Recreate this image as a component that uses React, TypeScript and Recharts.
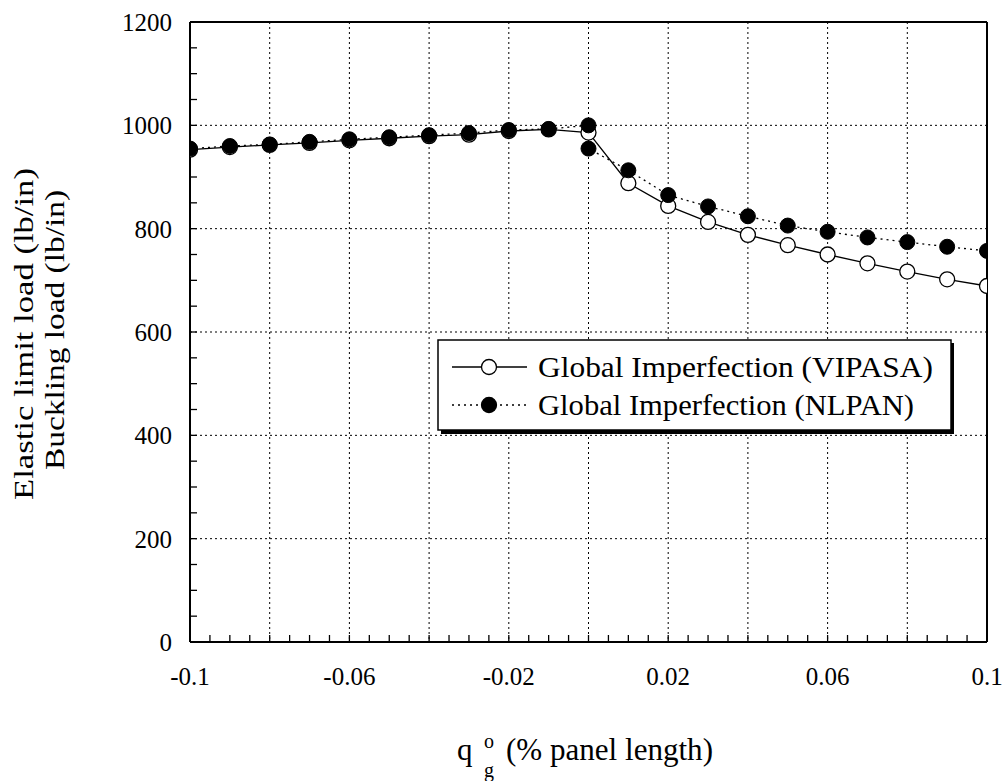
import React from 'react';
import { LineChart, Line, XAxis, YAxis, CartesianGrid, Legend, ReferenceLine } from 'recharts';

// imperfection amplitude (% panel length) and load (lb/in)
const qVipasa = [-0.1, -0.09, -0.08, -0.07, -0.06, -0.05, -0.04, -0.03, -0.02, -0.01, 0, 0.01, 0.02, 0.03, 0.04, 0.05, 0.06, 0.07, 0.08, 0.09, 0.1];
const loadVipasa = [953, 958, 962, 966, 971, 975, 979, 982, 989, 992, 986, 888, 844, 813, 788, 768, 750, 733, 717, 702, 689];

const qNlpan = [-0.1, -0.09, -0.08, -0.07, -0.06, -0.05, -0.04, -0.03, -0.02, -0.01, 0, 0, 0.01, 0.02, 0.03, 0.04, 0.05, 0.06, 0.07, 0.08, 0.09, 0.1];
const loadNlpan = [955, 960, 963, 968, 973, 977, 981, 985, 991, 993, 1000, 955, 913, 865, 843, 824, 806, 794, 783, 774, 765, 757];

const xGridTicks = [-0.1, -0.08, -0.06, -0.04, -0.02, 0, 0.02, 0.04, 0.06, 0.08, 0.1];
const xTickLabels = ['-0.1', '-0.06', '-0.02', '0.02', '0.06', '0.1'];
const xMinorTicks = Array.from({ length: 41 }, (_, i) => -0.1 + i * 0.005);
const yTicks = [0, 200, 400, 600, 800, 1000, 1200];
const yMinorTicks = Array.from({ length: 25 }, (_, i) => i * 50);

const seriesNames = ['Global Imperfection (VIPASA)', 'Global Imperfection (NLPAN)'];

const vipasaData = qVipasa.map((x, i) => ({ x, load: loadVipasa[i] }));
const nlpanData = qNlpan.map((x, i) => ({ x, load: loadNlpan[i] }));

const FONT = '"Liberation Serif", "Times New Roman", serif';

// every minor tick gets a tick line, only some get a label
const formatX = (v: number) => {
  const s = String(Math.round(v * 1000) / 1000);
  return xTickLabels.includes(s) ? s : '';
};
const formatY = (v: number) => (yTicks.includes(Math.round(v)) ? String(Math.round(v)) : '');

// legend box drawn in its own little svg, placed by the Legend wrapper
function LegendBox() {
  const rows = [
    { name: seriesNames[0], dash: undefined, fill: '#fff', len: 395 },
    { name: seriesNames[1], dash: '2 4', fill: '#000', len: 376 },
  ];
  return (
    <svg width={520} height={98} style={{ display: 'block' }}>
      <rect x={4} y={4} width={513} height={91} fill="#000" />
      <rect x={1} y={1} width={513} height={90} fill="#fff" stroke="#000" strokeWidth={1.5} />
      {rows.map((r, i) => {
        const cy = 28 + i * 38;
        return (
          <g key={r.name}>
            <line x1={15} x2={90} y1={cy} y2={cy} stroke="#000" strokeWidth={1.3} strokeDasharray={r.dash} />
            <circle cx={52} cy={cy} r={7.5} fill={r.fill} stroke="#000" strokeWidth={1.3} />
            <text x={101} y={cy + 10} fontFamily={FONT} fontSize={30} fill="#000" textLength={r.len} lengthAdjust="spacingAndGlyphs">
              {r.name}
            </text>
          </g>
        );
      })}
    </svg>
  );
}

export default function App() {
  return (
    <div style={{ position: 'absolute', left: 0, top: 0, width: 1004, height: 781, background: '#fff' }}>
      <LineChart width={1004} height={781} margin={{ top: 22, right: 17, bottom: 99, left: 130 }}>
        <CartesianGrid stroke="#000" strokeWidth={1} strokeDasharray="2 3" horizontalValues={yTicks} verticalValues={xGridTicks} />
        <XAxis
          dataKey="x"
          type="number"
          domain={[-0.1, 0.1]}
          allowDataOverflow
          ticks={xMinorTicks}
          interval={0}
          tickFormatter={formatX}
          height={40}
          tickSize={-7}
          tickMargin={32}
          tickLine={{ stroke: '#000', strokeWidth: 1.3 }}
          axisLine={{ stroke: '#000', strokeWidth: 2 }}
          tick={{ fill: '#000', fontSize: 25, fontFamily: FONT }}
        />
        <YAxis
          type="number"
          domain={[0, 1200]}
          allowDataOverflow
          ticks={yMinorTicks}
          interval={0}
          tickFormatter={formatY}
          width={60}
          tickSize={-7}
          tickMargin={25}
          tickLine={{ stroke: '#000', strokeWidth: 1.3 }}
          axisLine={{ stroke: '#000', strokeWidth: 2 }}
          tick={{ fill: '#000', fontSize: 25, fontFamily: FONT }}
        />
        <ReferenceLine y={1200} stroke="#000" strokeWidth={2} />
        <ReferenceLine x={0.1} stroke="#000" strokeWidth={2} />
        <Legend
          layout="horizontal"
          verticalAlign="middle"
          align="center"
          wrapperStyle={{ position: 'absolute', left: 437, top: 339, width: 520, height: 98 }}
          content={() => <LegendBox />}
        />
        <Line
          data={vipasaData}
          dataKey="load"
          name={seriesNames[0]}
          stroke="#000"
          strokeWidth={1.3}
          dot={{ r: 7.5, fill: '#fff', stroke: '#000', strokeWidth: 1.3 }}
          isAnimationActive={false}
        />
        <Line
          data={nlpanData}
          dataKey="load"
          name={seriesNames[1]}
          stroke="#000"
          strokeWidth={1.3}
          strokeDasharray="2 4"
          dot={{ r: 7.5, fill: '#000', stroke: '#000', strokeWidth: 1, strokeDasharray: '' }}
          isAnimationActive={false}
        />
      </LineChart>
      <svg width={1004} height={781} style={{ position: 'absolute', left: 0, top: 0, pointerEvents: 'none' }}>
        <g fontFamily={FONT} fontSize={28} fill="#000" textAnchor="middle">
          <text transform="translate(33,334) rotate(-90)" textLength={332} lengthAdjust="spacingAndGlyphs">Elastic limit load (lb/in)</text>
          <text transform="translate(64,330) rotate(-90)" textLength={280} lengthAdjust="spacingAndGlyphs">Buckling load (lb/in)</text>
        </g>
        <g fontFamily={FONT} fill="#000">
          <text x={457} y={760} fontSize={31}>q</text>
          <text x={484} y={748} fontSize={20}>o</text>
          <text x={484} y={777} fontSize={20}>g</text>
          <text x={506} y={760} fontSize={31} textLength={207} lengthAdjust="spacingAndGlyphs">(% panel length)</text>
        </g>
      </svg>
    </div>
  );
}
